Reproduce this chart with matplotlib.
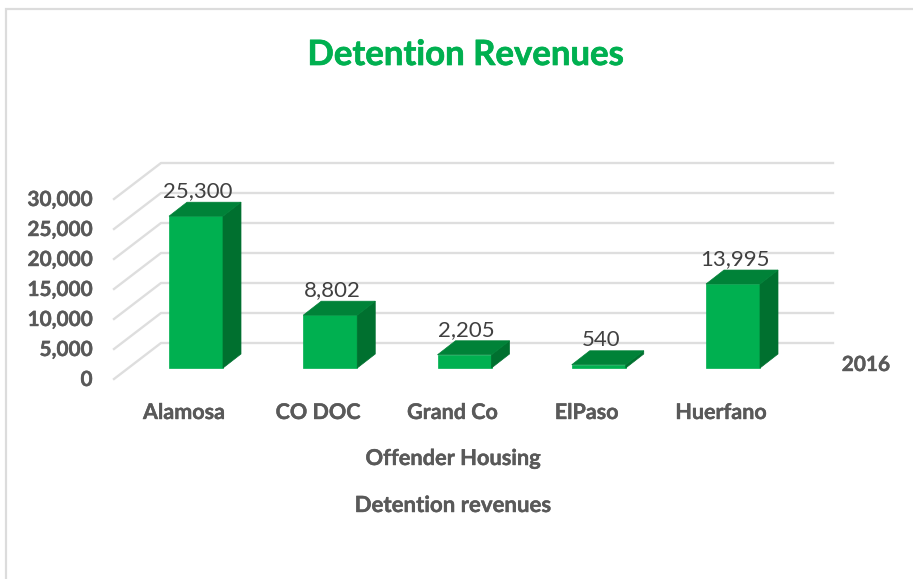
import matplotlib
matplotlib.use("Agg")
import matplotlib.pyplot as plt
import matplotlib.patheffects as pe
from matplotlib.patches import Polygon

plt.rcParams['font.family'] = ['Lato', 'DejaVu Sans']

categories = ["Alamosa", "CO DOC", "Grand Co", "ElPaso", "Huerfano"]
revenues = [25300, 8802, 2205, 540, 13995]
y_ticks = [0, 5000, 10000, 15000, 20000, 25000, 30000]
series_name = "2016"
title = "Detention Revenues"
x_title = "Offender Housing"
sub_title = "Detention revenues"

W, H = 913, 579
# pixel geometry of the fake 3D box
X0_PX, Y0_PX = 196.0, 368.0   # centre of first bar, foot of the bars
STEP_PX = 134.25
PX_PER_UNIT = 0.006
BAR_W = 54 / STEP_PX
DEPTH_X = 18 / STEP_PX
DEPTH_Y = 14 / PX_PER_UNIT
WALL_X = (161 - X0_PX) / STEP_PX
WALL_END = (833 - X0_PX) / STEP_PX
WALL_Y = 25 / PX_PER_UNIT
FRONT_X = (114 - X0_PX) / STEP_PX
FRONT_Y = -11 / PX_PER_UNIT

GRID = "#DEDEDE"
TEXT = "#595959"

fig = plt.figure(figsize=(W / 100, H / 100), dpi=100)
ax = fig.add_axes([0, 0, 1, 1])
ax.set_xlim(-X0_PX / STEP_PX, (W - X0_PX) / STEP_PX)
ax.set_ylim((Y0_PX - H) / PX_PER_UNIT, Y0_PX / PX_PER_UNIT)
ax.axis("off")


def xpx(p):
    return (p - X0_PX) / STEP_PX


def ypx(p):
    return (Y0_PX - p) / PX_PER_UNIT


def heavy(color, w=0.3):
    # Lato bold is lighter than the source font, thicken it a little
    return [pe.withStroke(linewidth=w, foreground=color)]


# chart frame, only top and left edges show in the source
ax.plot([xpx(6), xpx(6), xpx(W)], [ypx(H), ypx(8.5), ypx(8.5)], color="#DCDCDC", lw=1.6, solid_joinstyle="miter")

# back wall gridlines and the diagonal part on the side wall
for v in y_ticks:
    ax.plot([FRONT_X, WALL_X, WALL_END], [v + FRONT_Y, v + WALL_Y, v + WALL_Y], color=GRID, lw=1.7, zorder=1)
    ax.text(xpx(92.5), v + FRONT_Y - 1 / PX_PER_UNIT, f"{v:,}", ha="right", va="center", fontsize=15, fontweight="bold", color=TEXT, path_effects=heavy(TEXT))

for i, (name, val) in enumerate(zip(categories, revenues)):
    l, r = i - BAR_W / 2, i + BAR_W / 2
    ax.add_patch(Polygon([(l, 0), (r, 0), (r, val), (l, val)], fc="#00B050", ec="#00B050", lw=0.5, zorder=3))
    ax.add_patch(Polygon([(r, 0), (r + DEPTH_X, DEPTH_Y), (r + DEPTH_X, val + DEPTH_Y), (r, val)], fc="#00702F", ec="#00702F", lw=0.5, zorder=3))
    ax.add_patch(Polygon([(l, val), (r, val), (r + DEPTH_X, val + DEPTH_Y), (l + DEPTH_X, val + DEPTH_Y)], fc="#008238", ec="#008238", lw=0.5, zorder=3))
    ax.text(i + xpx(198), val + 25 / PX_PER_UNIT, f"{val:,}", ha="center", va="center", fontsize=16, color="#404040", zorder=4)
    ax.text(i + xpx(184), ypx(412.5), name, ha="center", va="center", fontsize=15.5, fontweight="bold", color=TEXT, path_effects=heavy(TEXT))

ax.text(xpx(866), ypx(365), series_name, ha="center", va="center", fontsize=15, fontweight="bold", color=TEXT, path_effects=heavy(TEXT))
ax.text(xpx(466), ypx(55), title, ha="center", va="center", fontsize=25, fontweight="bold", color="#00B050", path_effects=heavy("#00B050", 0.5))
ax.text(xpx(453), ypx(458.5), x_title, ha="center", va="center", fontsize=15.7, fontweight="bold", color=TEXT, path_effects=heavy(TEXT))
ax.text(xpx(453.5), ypx(505.5), sub_title, ha="center", va="center", fontsize=16, fontweight="bold", color=TEXT, path_effects=heavy(TEXT))

fig.savefig("out.png", dpi=100)
